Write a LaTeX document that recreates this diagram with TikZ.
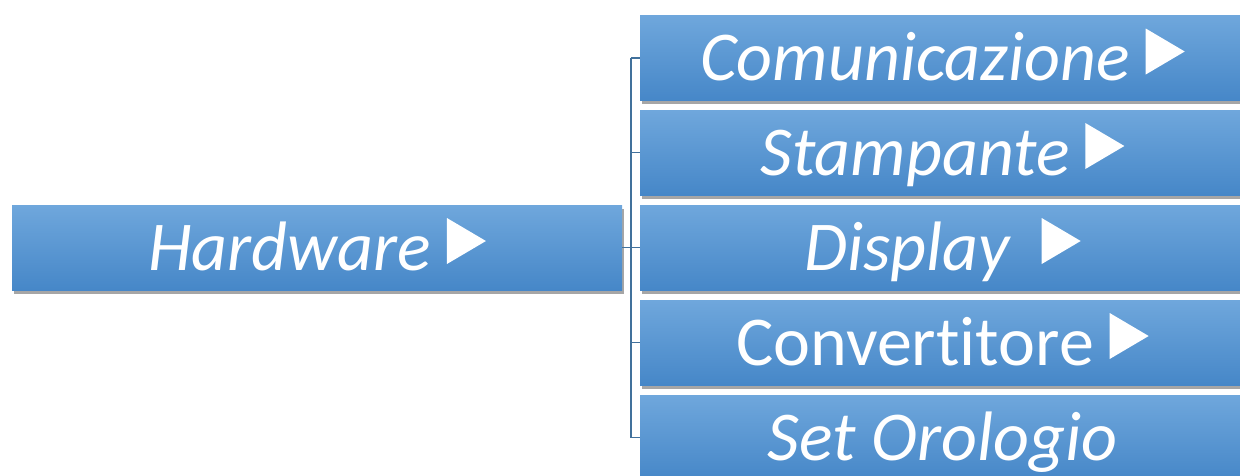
\documentclass[tikz,border=0pt]{standalone}
\usepackage{fontspec}
\setmainfont[Ligatures=NoCommon]{Carlito}
\usetikzlibrary{shadows}
\definecolor{boxtop}{HTML}{6FA7DC}
\definecolor{boxbot}{HTML}{4687C8}
\definecolor{conncol}{HTML}{41719C}
\newcommand\tri{\tikz[baseline=-6pt,x=1pt,y=1pt]\fill[white] (0,0)--(0,46)--(39,23)--cycle;}
\tikzset{
  box/.style={rectangle, minimum height=85pt, inner sep=0pt, top color=boxtop, bottom color=boxbot,
    drop shadow={shadow xshift=1.5pt, shadow yshift=-3.5pt, opacity=0.35, fill=black},
    text=white, text height=50pt, text depth=5pt, font=\fontsize{70}{84}\selectfont\itshape},
  conn/.style={draw=conncol, line width=1.6pt}
}
\begin{document}
\begin{tikzpicture}[x=1pt,y=-1pt]
\useasboundingbox (0,0) rectangle (1240,475);
\clip (0,0) rectangle (1240,475);
\node[box, minimum width=610pt] (hw) at (317,247.5) {Hardware \tri};
\path (hw.east) ++(9,0) coordinate (j);
\path (942.5,58) coordinate (p1) (942.5,152.5) coordinate (p2) (942.5,247.5) coordinate (p3)
      (942.5,342.5) coordinate (p4) (942.5,437.5) coordinate (p5);
\path (640,58) coordinate (w1) (640,152.5) coordinate (w2) (640,247.5) coordinate (w3)
      (640,342.5) coordinate (w4) (640,437.5) coordinate (w5);
\draw[conn] (hw.east) -- (j);
\draw[conn] (j|-w1) -- (j|-w5);
\foreach \n in {1,...,5} \draw[conn] (j|-w\n) -- (w\n);
\node[box, minimum width=605pt] (c1) at (p1) {Comunicazione \tri};
\node[box, minimum width=605pt] (c2) at (p2) {Stampante \tri};
\node[box, minimum width=605pt] (c3) at (p3) {Display\ \ \tri};
\node[box, minimum width=605pt, font=\fontsize{70}{84}\selectfont\upshape] (c4) at (p4) {Convertitore \tri};
\node[box, minimum width=605pt] (c5) at (p5) {Set Orologio};
\end{tikzpicture}
\end{document}
